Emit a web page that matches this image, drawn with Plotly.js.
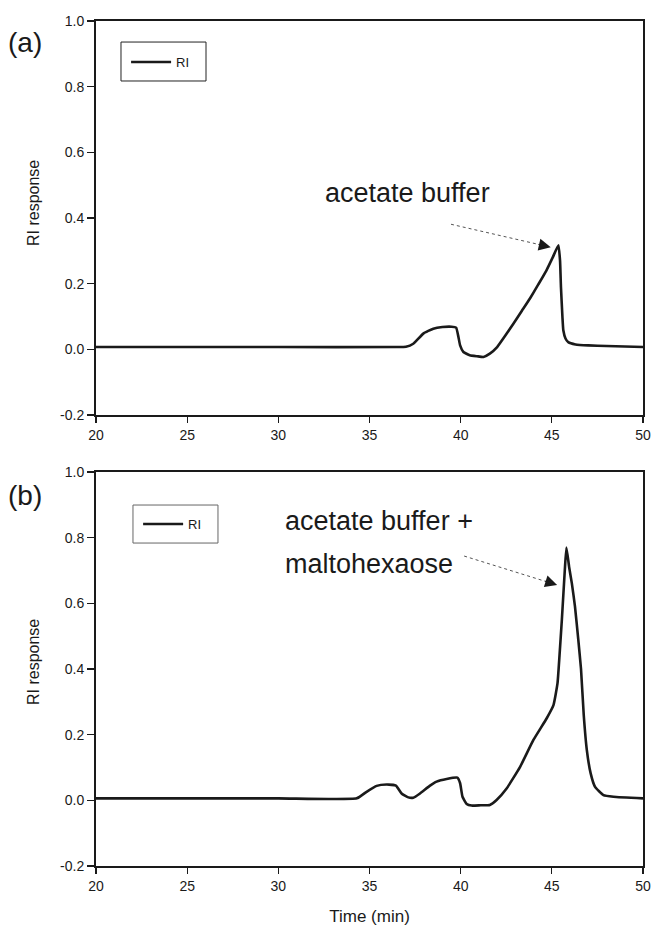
<!DOCTYPE html>
<html>
<head>
<meta charset="utf-8">
<script src="https://cdn.plot.ly/plotly-3.0.1.min.js"></script>
<style>html,body{margin:0;padding:0;background:#fff;}#chart{width:653px;height:931px;}</style>
</head>
<body>
<div id="chart"></div>
<script>
// Panel (a): acetate buffer
const timeA = [20, 30, 36.5, 37.0, 37.4, 37.95, 38.5, 39.0, 39.5, 39.75, 39.88, 39.97, 40.15, 40.5, 40.9, 41.25, 41.6, 42.0, 42.45, 42.9, 43.35, 43.8, 44.25, 44.7, 45.05, 45.36, 45.45, 45.5, 45.58, 45.63, 45.75, 45.9, 46.3, 47.0, 48.0, 50];
const riA = [0.007, 0.007, 0.007, 0.008, 0.017, 0.048, 0.063, 0.068, 0.069, 0.066, 0.037, 0.012, -0.008, -0.018, -0.021, -0.023, -0.013, 0.007, 0.042, 0.079, 0.117, 0.155, 0.197, 0.24, 0.28, 0.317, 0.27, 0.19, 0.1, 0.058, 0.033, 0.022, 0.015, 0.012, 0.010, 0.007];

// Panel (b): acetate buffer + maltohexaose
const timeB = [20, 30, 34.3, 34.84, 35.39, 35.94, 36.45, 36.76, 37.13, 37.4, 37.77, 38.3, 38.68, 39.23, 39.82, 39.97, 40.1, 40.33, 40.6, 41.1, 41.6, 41.97, 42.52, 43.26, 43.99, 44.72, 45.09, 45.31, 45.42, 45.55, 45.71, 45.8, 45.95, 46.1, 46.27, 46.45, 46.6, 46.75, 46.92, 47.13, 47.37, 47.83, 48.38, 50];
const riB = [0.006, 0.006, 0.006, 0.026, 0.044, 0.048, 0.045, 0.021, 0.009, 0.008, 0.021, 0.044, 0.057, 0.065, 0.069, 0.052, 0.011, -0.011, -0.016, -0.015, -0.014, 0.001, 0.036, 0.102, 0.184, 0.25, 0.29, 0.356, 0.44, 0.55, 0.70, 0.77, 0.71, 0.66, 0.59, 0.49, 0.40, 0.26, 0.153, 0.082, 0.041, 0.016, 0.011, 0.006];

// Tick labels
const xTickVals = [20, 25, 30, 35, 40, 45, 50];
const yTickVals = [-0.2, 0.0, 0.2, 0.4, 0.6, 0.8, 1.0];
const yTickText = ['-0.2', '0.0', '0.2', '0.4', '0.6', '0.8', '1.0'];

// Text
const seriesName = 'RI';
const panelLabels = ['(a)', '(b)'];
const yTitle = 'RI response';
const xTitle = 'Time (min)';
const noteA = 'acetate buffer';
const noteB1 = 'acetate buffer +';
const noteB2 = 'maltohexaose';

const FONT = 'Liberation Sans, Arial, Helvetica, sans-serif';
const INK = '#1a1a1a';

const traces = [
  {x: timeA, y: riA, type: 'scatter', mode: 'lines', name: seriesName, xaxis: 'x', yaxis: 'y',
   line: {color: INK, width: 2.6, shape: 'spline', smoothing: 0.4}, legend: 'legend'},
  {x: timeB, y: riB, type: 'scatter', mode: 'lines', name: seriesName, xaxis: 'x2', yaxis: 'y2',
   line: {color: INK, width: 2.6, shape: 'spline', smoothing: 0.4}, legend: 'legend2'}
];

function xAx(anchor) {
  return {anchor: anchor, range: [20, 50], tickvals: xTickVals, ticks: 'outside', ticklen: 6, tickwidth: 1.2,
    tickcolor: INK, showline: true, mirror: true, linewidth: 2, linecolor: INK, showgrid: false, zeroline: false,
    tickfont: {family: FONT, size: 14, color: INK}};
}
function yAx(anchor, domain) {
  return {anchor: anchor, domain: domain, range: [-0.2, 1.0], tickvals: yTickVals, ticktext: yTickText,
    ticks: 'outside', ticklen: 7, tickwidth: 1.2, tickcolor: INK, showline: true, mirror: true, linewidth: 2,
    linecolor: INK, showgrid: false, zeroline: false, tickfont: {family: FONT, size: 14, color: INK}};
}

const layout = {
  width: 653, height: 931,
  margin: {l: 96, r: 10, t: 21, b: 65, pad: 0},
  paper_bgcolor: '#fff', plot_bgcolor: '#fff',
  font: {family: FONT, color: INK},
  xaxis: xAx('y'),
  yaxis: yAx('x', [0.5337, 1]),
  xaxis2: Object.assign(xAx('y2'), {title: {text: xTitle, font: {family: FONT, size: 17, color: INK}, standoff: 17}}),
  yaxis2: yAx('x2', [0, 0.4663]),
  showlegend: true,
  legend: {x: 0.055, y: 0.9515, xanchor: 'left', yanchor: 'middle', bgcolor: 'rgba(0,0,0,0)', borderwidth: 0,
    font: {family: FONT, size: 13, color: INK}, itemwidth: 40},
  legend2: {x: 0.077, y: 0.4047, xanchor: 'left', yanchor: 'middle', bgcolor: 'rgba(0,0,0,0)', borderwidth: 0,
    font: {family: FONT, size: 13, color: INK}, itemwidth: 40},
  shapes: [
    {type: 'rect', xref: 'paper', yref: 'paper', x0: 0.0457, x1: 0.2011, y0: 0.929, y1: 0.9751, fillcolor: '#fff', line: {color: '#222', width: 1}, layer: 'below'},
    {type: 'rect', xref: 'paper', yref: 'paper', x0: 0.0676, x1: 0.2230, y0: 0.3822, y1: 0.4272, fillcolor: '#fff', line: {color: '#666', width: 1}, layer: 'below'},
    {type: 'line', xref: 'x', yref: 'y', x0: 39.47, y0: 0.381, x1: 44.4, y1: 0.318, line: {color: '#555', width: 1, dash: 'dot'}},
    {type: 'line', xref: 'x2', yref: 'y2', x0: 40.19, y0: 0.744, x1: 44.7, y1: 0.666, line: {color: '#555', width: 1, dash: 'dot'}}
  ],
  annotations: [
    {xref: 'paper', yref: 'paper', x: -0.1298, y: 0.9751, text: panelLabels[0], showarrow: false, xanchor: 'center', yanchor: 'middle', font: {family: FONT, size: 28, color: INK}},
    {xref: 'paper', yref: 'paper', x: -0.1298, y: 0.4379, text: panelLabels[1], showarrow: false, xanchor: 'center', yanchor: 'middle', font: {family: FONT, size: 28, color: INK}},
    {xref: 'paper', yref: 'paper', x: -0.1152, y: 0.7846, text: yTitle, textangle: -90, showarrow: false, xanchor: 'center', yanchor: 'middle', font: {family: FONT, size: 16, color: INK}},
    {xref: 'paper', yref: 'paper', x: -0.1152, y: 0.2414, text: yTitle, textangle: -90, showarrow: false, xanchor: 'center', yanchor: 'middle', font: {family: FONT, size: 16, color: INK}},
    {xref: 'x', yref: 'y', x: 32.45, y: 0.475, text: noteA, showarrow: false, xanchor: 'left', yanchor: 'middle', font: {family: FONT, size: 27, color: INK}},
    {xref: 'x2', yref: 'y2', x: 30.26, y: 0.85, text: noteB1, showarrow: false, xanchor: 'left', yanchor: 'middle', font: {family: FONT, size: 27, color: INK}},
    {xref: 'x2', yref: 'y2', x: 30.26, y: 0.72, text: noteB2, showarrow: false, xanchor: 'left', yanchor: 'middle', font: {family: FONT, size: 27, color: INK}},
    {xref: 'x', yref: 'y', x: 44.94, y: 0.311, text: '', showarrow: true, arrowhead: 2, arrowsize: 2.4, arrowwidth: 1, arrowcolor: INK, ax: -13.7, ay: -3.1, standoff: 0},
    {xref: 'x2', yref: 'y2', x: 45.29, y: 0.656, text: '', showarrow: true, arrowhead: 2, arrowsize: 2.4, arrowwidth: 1, arrowcolor: INK, ax: -13.4, ay: -4.2, standoff: 0}
  ]
};

Plotly.newPlot('chart', traces, layout, {displayModeBar: false, staticPlot: true});
</script>
</body>
</html>
